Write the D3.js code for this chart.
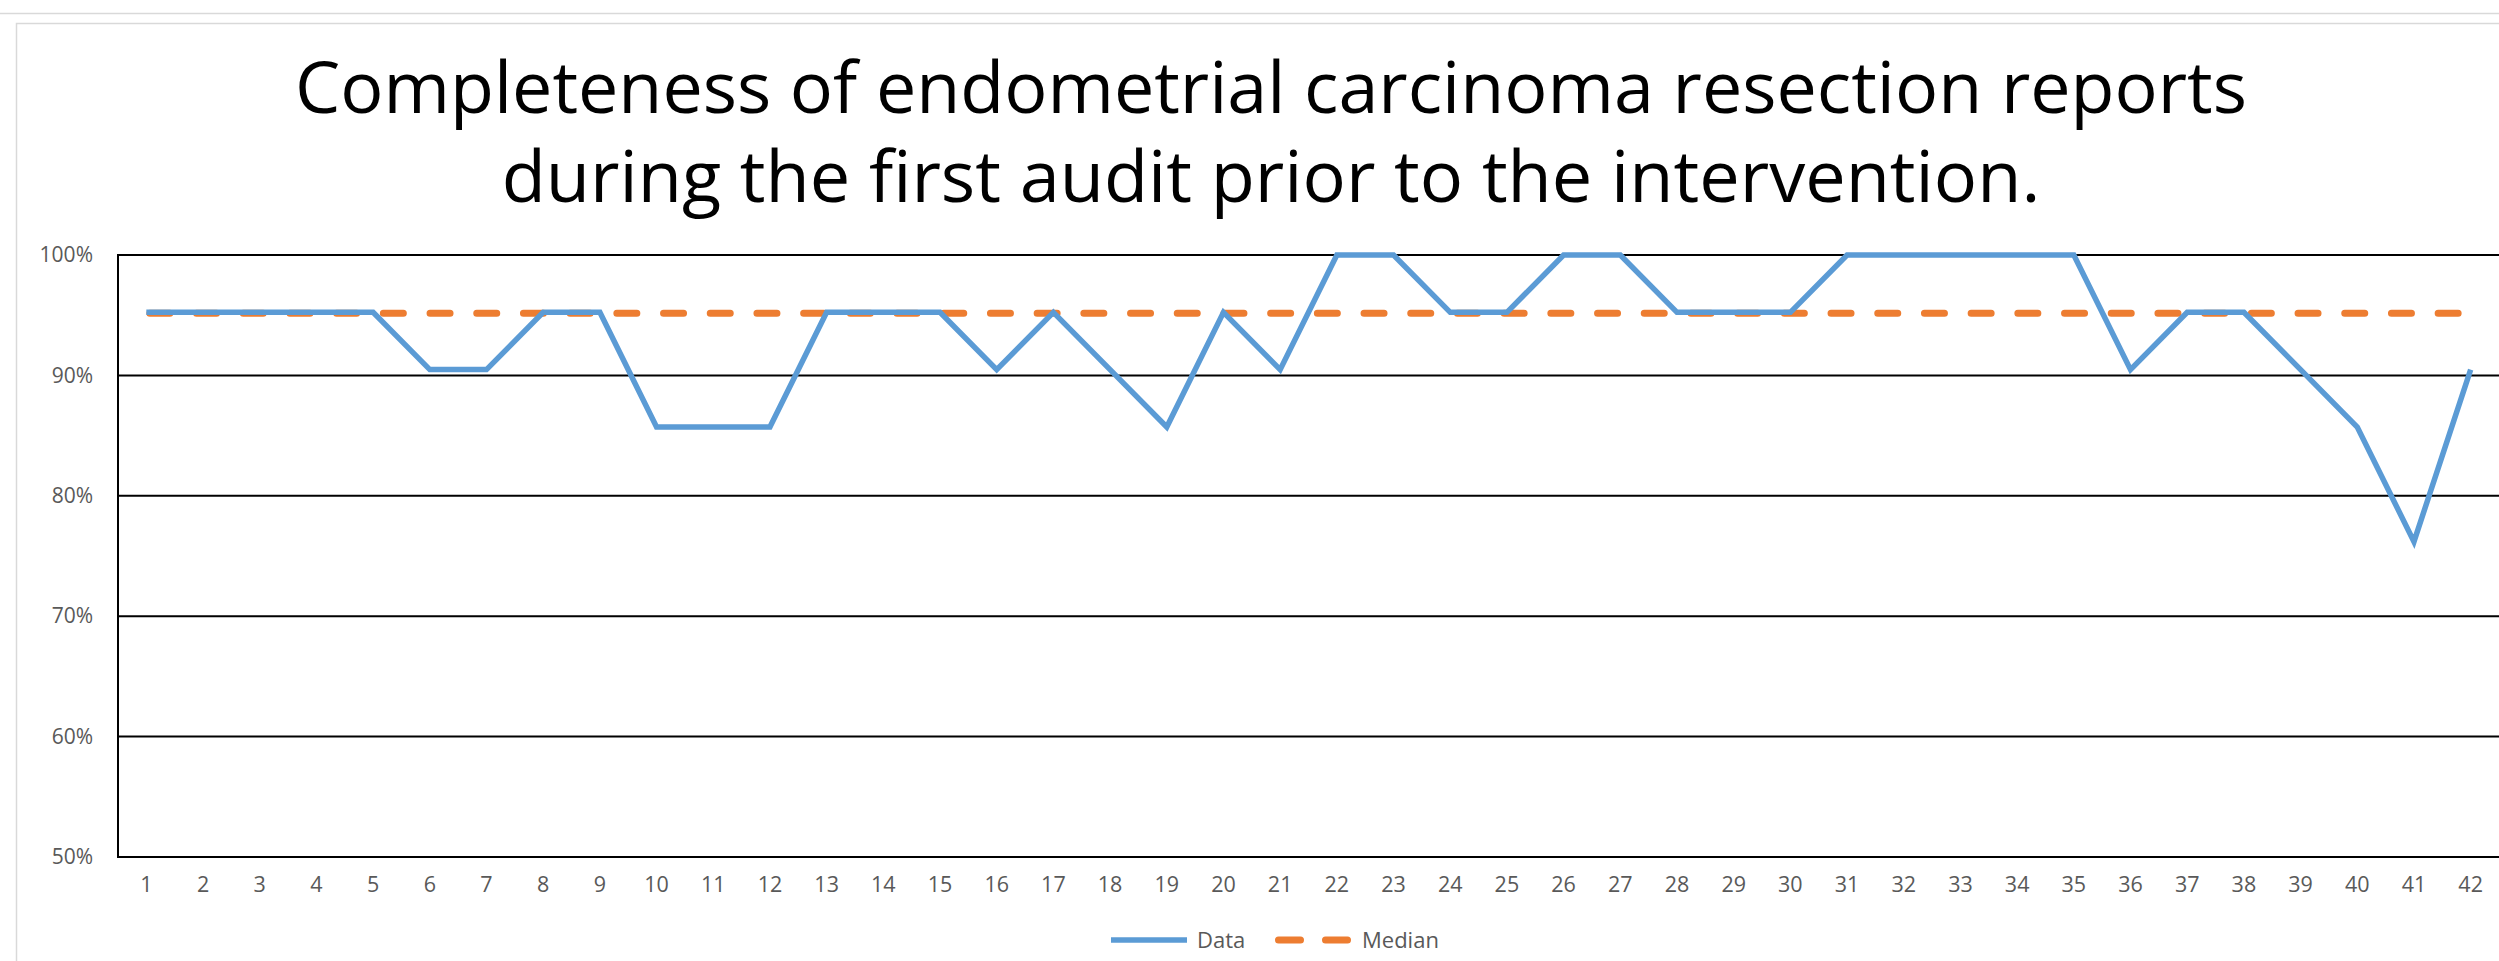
<!DOCTYPE html>
<html>
<head>
<meta charset="utf-8">
<script src="https://cdn.jsdelivr.net/npm/d3@7"></script>
<style>
  html, body { margin: 0; padding: 0; background: #fff; }
  svg { display: block; }
</style>
</head>
<body>
<svg id="chart" width="2499" height="961"></svg>
<script>
// ---- Data ----
const categories = ["1","2","3","4","5","6","7","8","9","10","11","12","13","14","15","16","17","18","19","20","21","22","23","24","25","26","27","28","29","30","31","32","33","34","35","36","37","38","39","40","41","42"];
const dataValues = [95.24,95.24,95.24,95.24,95.24,90.48,90.48,95.24,95.24,85.71,85.71,85.71,95.24,95.24,95.24,90.48,95.24,90.48,85.71,95.24,90.48,100,100,95.24,95.24,100,100,95.24,95.24,95.24,100,100,100,100,100,90.48,95.24,95.24,90.48,85.71,76.19,90.48];
const medianValues = [95.24,95.24,95.24,95.24,95.24,95.24,95.24,95.24,95.24,95.24,95.24,95.24,95.24,95.24,95.24,95.24,95.24,95.24,95.24,95.24,95.24,95.24,95.24,95.24,95.24,95.24,95.24,95.24,95.24,95.24,95.24,95.24,95.24,95.24,95.24,95.24,95.24,95.24,95.24,95.24,95.24,95.24];
const yTicks = [50, 60, 70, 80, 90, 100];
const titleLines = ["Completeness of endometrial carcinoma resection reports", "during the first audit prior to the intervention."];
const seriesNames = ["Data", "Median"];

// ---- Layout ----
const W = 2499, H = 961;
const plot = { left: 118, right: 2499, top: 255, bottom: 857 };
const FONT = "'Open Sans', 'Noto Sans', sans-serif";
const blue = "#5B9BD5", orange = "#ED7D31", labelGray = "#595959";

const svg = d3.select("#chart");

// outer frame lines
svg.append("line").attr("x1", 0).attr("x2", W).attr("y1", 13.5).attr("y2", 13.5)
  .attr("stroke", "#d9d9d9").attr("stroke-width", 1.5);
svg.append("rect").attr("x", 16.5).attr("y", 23.5).attr("width", W + 20).attr("height", H + 20)
  .attr("fill", "none").attr("stroke", "#d9d9d9").attr("stroke-width", 1.5);

// scales
const x = d3.scaleBand().domain(categories).range([plot.left, plot.right]).padding(0);
const xc = d => x(d) + x.bandwidth() / 2;
const y = d3.scaleLinear().domain([50, 100]).range([plot.bottom, plot.top]);

// gridlines
svg.append("g").selectAll("line").data(yTicks).join("line")
  .attr("x1", plot.left).attr("x2", plot.right)
  .attr("y1", d => y(d)).attr("y2", d => y(d))
  .attr("stroke", "#000").attr("stroke-width", 2);

// left axis line
svg.append("line").attr("x1", plot.left).attr("x2", plot.left)
  .attr("y1", plot.top - 1).attr("y2", plot.bottom + 1)
  .attr("stroke", "#000").attr("stroke-width", 2);

// y axis labels
const yAxis = d3.axisLeft(y).tickValues(yTicks).tickFormat(d => d + "%").tickSize(0).tickPadding(25);
const gy = svg.append("g").attr("transform", `translate(${plot.left},0)`).call(yAxis);
gy.select(".domain").remove();
gy.selectAll("text").attr("font-family", FONT).attr("font-size", 21).attr("fill", labelGray);

// x axis labels
const xAxis = d3.axisBottom(x).tickSize(0).tickPadding(20);
const gx = svg.append("g").attr("transform", `translate(0,${plot.bottom})`).call(xAxis);
gx.select(".domain").remove();
gx.selectAll("text").attr("font-family", FONT).attr("font-size", 21.5).attr("fill", labelGray);

// lines
const lineGen = d3.line().x((d, i) => xc(categories[i])).y(d => y(d));

svg.append("path").datum(medianValues)
  .attr("d", lineGen)
  .attr("fill", "none").attr("stroke", orange).attr("stroke-width", 7)
  .attr("stroke-linecap", "round").attr("stroke-dasharray", "20 26.7")
  .attr("transform", "translate(3.5,1)");

svg.append("path").datum(dataValues)
  .attr("d", lineGen)
  .attr("fill", "none").attr("stroke", blue).attr("stroke-width", 5.5)
  .attr("stroke-linejoin", "miter").attr("stroke-linecap", "butt");

// title
const titleTargets = [{ w: 1952, y: 113 }, { w: 1539, y: 202 }];
const titleCx = 1271;
titleLines.forEach((t, i) => {
  const txt = svg.append("text").text(t)
    .attr("x", titleCx).attr("y", titleTargets[i].y)
    .attr("text-anchor", "middle").attr("font-family", FONT)
    .attr("font-size", 64).attr("fill", "#000");
  const len = txt.node().getComputedTextLength();
  txt.attr("font-size", 64 * titleTargets[i].w / len);
});

// legend
const legY = 940;
const leg = svg.append("g");
leg.append("line").attr("x1", 1111).attr("x2", 1187).attr("y1", legY).attr("y2", legY)
  .attr("stroke", blue).attr("stroke-width", 5.5);
leg.append("text").text(seriesNames[0]).attr("x", 1197).attr("y", legY).attr("dy", "0.35em")
  .attr("font-family", FONT).attr("font-size", 22).attr("fill", labelGray);
leg.append("line").attr("x1", 1278.5).attr("x2", 1350).attr("y1", legY).attr("y2", legY)
  .attr("stroke", orange).attr("stroke-width", 7).attr("stroke-linecap", "round")
  .attr("stroke-dasharray", "22 25");
leg.append("text").text(seriesNames[1]).attr("x", 1362).attr("y", legY).attr("dy", "0.35em")
  .attr("font-family", FONT).attr("font-size", 22).attr("fill", labelGray);
</script>
</body>
</html>
